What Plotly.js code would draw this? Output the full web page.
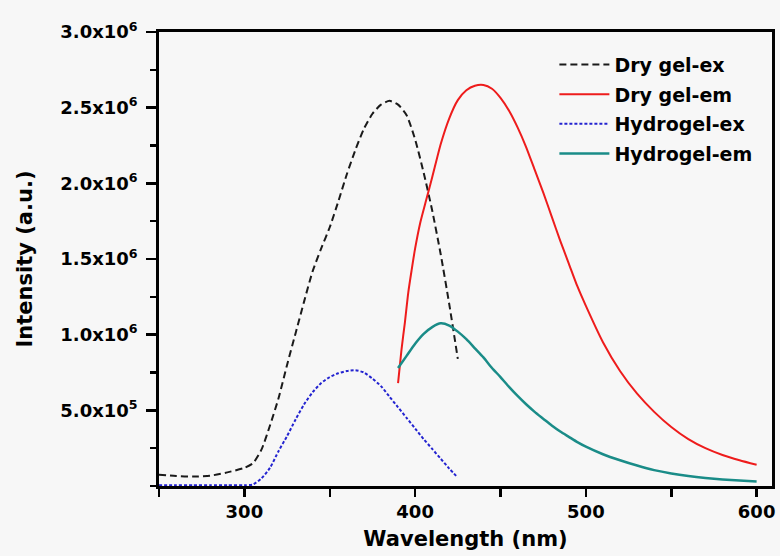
<!DOCTYPE html>
<html>
<head>
<meta charset="utf-8">
<script src="https://cdn.plot.ly/plotly-3.0.1.min.js"></script>
<style>html,body{margin:0;padding:0;background:#f7f7f7;}</style>
</head>
<body>
<div id="chart" style="width:780px;height:556px;"></div>
<script>
// Dry gel excitation
const wlDryEx = [250,260,270,280,290,300,305,310,315,320,325,330,335,340,345,350,355,360,365,370,375,380,385,390,395,400,405,410,415,420,425];
const intDryEx = [75000,66000,62000,68000,90000,120000,150000,240000,400000,580000,800000,1010000,1220000,1420000,1570000,1710000,1880000,2060000,2220000,2360000,2460000,2520000,2545000,2520000,2450000,2290000,2070000,1820000,1530000,1200000,840000];
// Dry gel emission
const wlDryEm = [390,392,394,396,398,400,403,406,410,415,420,425,430,435,440,445,450,455,460,465,470,475,480,485,490,495,500,510,520,530,540,550,560,570,580,590,600];
const intDryEm = [680000,900000,1080000,1280000,1430000,1570000,1740000,1870000,2040000,2260000,2430000,2550000,2615000,2645000,2650000,2625000,2565000,2480000,2370000,2240000,2090000,1940000,1780000,1620000,1470000,1320000,1190000,950000,760000,610000,490000,390000,310000,250000,205000,170000,140000];
// Hydrogel excitation
const wlHydEx = [250,260,270,280,290,300,305,310,315,320,325,330,335,340,345,350,355,360,365,370,375,380,385,390,395,400,405,410,415,420,425];
const intHydEx = [5000,5000,5000,5000,5000,5000,10000,50000,120000,230000,330000,440000,540000,620000,680000,720000,745000,760000,765000,750000,710000,660000,590000,520000,450000,380000,310000,245000,180000,115000,55000];
// Hydrogel emission
const wlHydEm = [390,395,400,405,410,415,420,425,430,435,440,445,450,455,460,465,470,475,480,485,490,495,500,510,520,530,540,550,560,570,580,590,600];
const intHydEm = [780000,860000,940000,1005000,1050000,1075000,1060000,1020000,970000,910000,850000,780000,720000,655000,595000,540000,490000,445000,400000,360000,325000,290000,260000,210000,170000,135000,105000,83000,66000,53000,43000,36000,30000];

const seriesNames = ['Dry gel-ex','Dry gel-em','Hydrogel-ex','Hydrogel-em'];
const yTickVals = [500000,1000000,1500000,2000000,2500000,3000000];
const yTickText = ['5.0x10<sup>5</sup>','1.0x10<sup>6</sup>','1.5x10<sup>6</sup>','2.0x10<sup>6</sup>','2.5x10<sup>6</sup>','3.0x10<sup>6</sup>'];
const xTickVals = [300,400,500,600];

const FONT = '"DejaVu Sans", Arial, sans-serif';

const traces = [
  {x: wlDryEx, y: intDryEx, name: seriesNames[0], legendgroup:'a', mode:'lines',
   line:{color:'#1a1a1a', width:2, dash:'7px,4px', shape:'spline', smoothing:0.6}},
  {x: wlDryEm, y: intDryEm, name: seriesNames[1], legendgroup:'b', mode:'lines',
   line:{color:'#ee1c1c', width:2, shape:'spline', smoothing:0.6}},
  {x: wlHydEx, y: intHydEx, name: seriesNames[2], legendgroup:'c', mode:'lines',
   line:{color:'#2323d0', width:2, dash:'3px,2px', shape:'spline', smoothing:0.6}},
  {x: wlHydEm, y: intHydEm, name: seriesNames[3], legendgroup:'d', mode:'lines',
   line:{color:'#1a8c88', width:2.5, shape:'spline', smoothing:0.6}}
];

const layout = {
  width: 780, height: 556, autosize: false,
  margin: {l:159, r:8, t:32, b:70, pad:0},
  paper_bgcolor: '#f7f7f7', plot_bgcolor: '#f7f7f7',
  font: {family: FONT, color:'#000'},
  showlegend: true,
  legend: {x:0.645, xanchor:'left', y:0.97, yanchor:'top', bgcolor:'rgba(0,0,0,0)',
           borderwidth:0, font:{family:FONT, size:19, weight:'bold', color:'#000'},
           itemwidth:50, tracegroupgap:2, traceorder:'grouped'},
  xaxis: {
    range:[250,609], tickmode:'array', tickvals:xTickVals,
    ticks:'outside', ticklen:8, tickwidth:2.5, tickcolor:'#000',
    showline:true, linecolor:'#000', linewidth:2.8, mirror:true,
    showgrid:false, zeroline:false, ticklabelstandoff:0,
    tickfont:{family:FONT, size:18, weight:'bold', color:'#000'},
    minor:{tickmode:'linear', tick0:250, dtick:50, ticks:'outside', ticklen:8, tickwidth:2.5, tickcolor:'#000', showgrid:false},
    title:{text:'Wavelength (nm)', font:{family:FONT, size:21, weight:'bold', color:'#000'}, standoff:10}
  },
  yaxis: {
    range:[0,3000000], tickmode:'array', tickvals:yTickVals, ticktext:yTickText,
    ticks:'outside', ticklen:10, tickwidth:2.5, tickcolor:'#000',
    showline:true, linecolor:'#000', linewidth:2.8, mirror:true,
    showgrid:false, zeroline:false, ticklabelstandoff:5,
    tickfont:{family:FONT, size:18, weight:'bold', color:'#000'},
    minor:{tickmode:'linear', tick0:0, dtick:250000, ticks:'outside', ticklen:6, tickwidth:2.5, tickcolor:'#000', showgrid:false},
    title:{text:'Intensity (a.u.)', font:{family:FONT, size:21, weight:'bold', color:'#000'}, standoff:22}
  }
};

Plotly.newPlot('chart', traces, layout, {displayModeBar:false, staticPlot:true});
</script>
</body>
</html>
